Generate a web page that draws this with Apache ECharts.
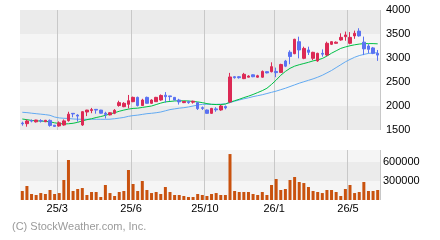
<!DOCTYPE html>
<html><head><meta charset="utf-8">
<script src="https://cdn.jsdelivr.net/npm/echarts@6/dist/echarts.min.js"></script>
<style>html,body{margin:0;padding:0;background:#fff}#c{width:440px;height:240px}</style>
</head><body><div id="c"></div>
<script>
// x-axis tick marks (category index where a month label/grid line sits) and their labels
const tickIndex = [8, 24, 40, 55, 71];
const tickLabels = ['25/3', '25/6', '25/10', '26/1', '26/5'];
const priceTicks = [1500, 2000, 2500, 3000, 3500, 4000];
const volumeTicks = [300000, 600000];

// weekly candles: open, close, low, high
const opens  = [1645,1632,1695,1670,1695,1672,1700,1600,1585,1604,1695,1847,1810,1604,1875,1905,1930,1915,1850,1815,
                1848,2010,1986,2035,2090,2180,2010,2180,2056,2090,2125,2225,2210,2180,2125,2070,2090,2080,2070,1965,
                1917,1847,1940,1917,1990,2085,2610,2610,2570,2600,2650,2600,2600,2715,2715,2720,2700,2937,3120,3090,
                3340,2993,3167,2993,2940,3097,3062,3285,3306,3375,3444,3306,3460,3560,3330,3250,3210,3097];
const closes = [1630,1688,1685,1708,1685,1702,1595,1575,1650,1690,1830,1835,1790,1882,1915,1925,1915,1850,1825,1860,
                1910,2070,2056,2110,2180,2010,2125,2056,2125,2180,2220,2195,2195,2125,2085,2095,2070,2100,1945,1950,
                1847,1950,1920,2000,1960,2605,2590,2590,2660,2625,2610,2630,2720,2690,2820,2695,2865,2830,3030,3390,
                3167,3200,3118,3118,3097,3080,3306,3340,3330,3430,3480,3430,3514,3460,3190,3180,3097,3060];
const lows   = [1590,1569,1660,1655,1655,1665,1569,1569,1569,1590,1674,1765,1674,1585,1790,1850,1840,1840,1740,1805,
                1830,1985,1975,1950,2080,1990,2000,2050,2045,2085,2110,2070,2110,2120,2030,2060,2045,2050,1917,1917,
                1840,1835,1880,1900,1930,2060,2570,2570,2560,2595,2600,2590,2590,2680,2700,2600,2690,2810,2870,3080,
                2993,2975,3062,2958,2920,3028,3040,3270,3300,3360,3360,3285,3400,3445,3060,3097,3080,2940];
const highs  = [1674,1720,1720,1712,1725,1710,1720,1604,1680,1720,1880,1850,1830,1890,1920,1960,1935,1920,1880,1870,
                1935,2110,2080,2230,2195,2195,2150,2195,2140,2190,2240,2290,2210,2185,2150,2100,2110,2110,2075,1990,
                1925,1960,1975,2020,2010,2690,2625,2625,2690,2640,2660,2650,2740,2720,2910,2800,2880,2960,3160,3400,
                3444,3236,3236,3130,3110,3180,3340,3350,3345,3514,3550,3540,3570,3620,3445,3290,3230,3167];
const volumes = [142000,221000,95000,79000,110000,95000,158000,95000,110000,316000,
                 632000,142000,174000,189000,79000,126000,126000,47000,237000,110000,
                 63000,126000,142000,474000,253000,142000,300000,158000,110000,126000,
                 95000,205000,126000,79000,79000,63000,47000,47000,95000,79000,
                 63000,95000,110000,79000,79000,726000,142000,126000,126000,126000,
                 95000,79000,126000,79000,237000,332000,158000,174000,316000,363000,
                 284000,268000,205000,142000,126000,110000,158000,158000,126000,63000,
                 174000,237000,110000,126000,284000,142000,142000,158000];
const maShort = [1729,1715,1700,1690,1687,1680,1670,1650,1635,1625,1630,1640,1660,1690,1715,1735,1760,1780,1805,1835,
                 1860,1890,1915,1935,1950,1955,1970,1985,2000,2030,2060,2085,2095,2105,2108,2108,2105,2095,2085,2070,
                 2050,2035,2030,2030,2040,2080,2110,2140,2175,2205,2240,2280,2320,2370,2450,2540,2640,2720,2785,2830,
                 2860,2885,2910,2940,2960,2990,3040,3100,3150,3200,3230,3255,3275,3290,3300,3300,3300,3295];
const maLong  = [1869,1862,1850,1840,1830,1820,1806,1770,1752,1744,1740,1730,1725,1723,1723,1723,1723,1723,1723,1725,
                 1735,1748,1762,1785,1800,1810,1825,1840,1848,1860,1875,1900,1925,1940,1955,1965,1980,2000,2020,2035,
                 2035,2035,2035,2038,2045,2070,2100,2125,2150,2170,2195,2215,2235,2260,2285,2310,2340,2370,2405,2440,
                 2475,2505,2535,2565,2600,2640,2690,2740,2800,2860,2920,2970,3015,3050,3075,3095,3105,3110];

const categories = opens.map((_, i) => String(i));
const candleData = opens.map((o, i) => [o, closes[i], lows[i], highs[i]]);

const FONT = '"Liberation Sans", Arial, sans-serif';
const UP = '#dc2a55', DOWN = '#5a72f2';
const isTick = (idx) => tickIndex.indexOf(idx) >= 0;

const chart = echarts.init(document.getElementById('c'), null, {renderer: 'canvas'});
chart.setOption({
  animation: false,
  backgroundColor: '#ffffff',
  grid: [
    {left: 20, right: 60, top: 10, height: 120},
    {left: 20, right: 60, top: 150, height: 50}
  ],
  xAxis: [
    {type: 'category', gridIndex: 0, data: categories, boundaryGap: true,
     axisLine: {show: false}, axisTick: {show: false}, axisLabel: {show: false},
     splitLine: {show: true, interval: (i) => isTick(i), lineStyle: {color: '#c8c8c8', width: 1}}},
    {type: 'category', gridIndex: 1, data: categories, boundaryGap: true,
     axisLine: {show: false}, axisTick: {show: false},
     axisLabel: {show: true, interval: (i) => isTick(i), margin: 3, color: '#000', fontSize: 11, fontFamily: FONT,
       padding: [0, 4, 0, 0],
       formatter: (v, i) => { const k = tickIndex.indexOf(i); return k >= 0 ? tickLabels[k] : ''; }},
     splitLine: {show: true, interval: (i) => isTick(i), lineStyle: {color: '#c8c8c8', width: 1}}}
  ],
  yAxis: [
    {type: 'value', gridIndex: 0, position: 'right', min: priceTicks[0], max: priceTicks[priceTicks.length - 1], interval: 500,
     axisLine: {show: false}, axisTick: {show: false}, splitLine: {show: false},
     splitArea: {show: true, areaStyle: {color: ['#ebebeb', '#f5f5f5']}},
     axisLabel: {margin: 6, color: '#000', fontSize: 11, fontFamily: FONT,
       formatter: (v) => priceTicks.indexOf(v) >= 0 ? String(v) : ''}},
    {type: 'value', gridIndex: 1, position: 'right', min: 0, max: 790000, interval: 300000,
     axisLine: {show: false}, axisTick: {show: false}, splitLine: {show: false},
     splitArea: {show: true, areaStyle: {color: ['#f5f5f5', '#ebebeb']}},
     axisLabel: {margin: 3, color: '#000', fontSize: 11, fontFamily: FONT, showMaxLabel: false,
       formatter: (v) => volumeTicks.indexOf(v) >= 0 ? String(v) : ''}}
  ],
  series: [
    {type: 'line', name: 'MA long', xAxisIndex: 0, yAxisIndex: 0, data: maLong, symbol: 'none',
     lineStyle: {color: '#62aaf2', width: 1}, z: 2, silent: true},
    {type: 'line', name: 'MA short', xAxisIndex: 0, yAxisIndex: 0, data: maShort, symbol: 'none',
     lineStyle: {color: '#00c046', width: 1}, z: 3, silent: true},
    {type: 'candlestick', xAxisIndex: 0, yAxisIndex: 0, data: candleData, barWidth: 3, z: 4,
     itemStyle: {color: UP, color0: DOWN, borderColor: UP, borderColor0: DOWN, borderWidth: 1}},
    {type: 'bar', xAxisIndex: 1, yAxisIndex: 1, data: volumes, barWidth: 3,
     itemStyle: {color: '#c9520e'}}
  ],
  graphic: [
    {type: 'text', left: 12, top: 221,
     style: {text: '(C) StockWeather.com, Inc.', fill: '#9a9a9a', font: '11px ' + FONT}}
  ]
});
</script>
</body></html>
